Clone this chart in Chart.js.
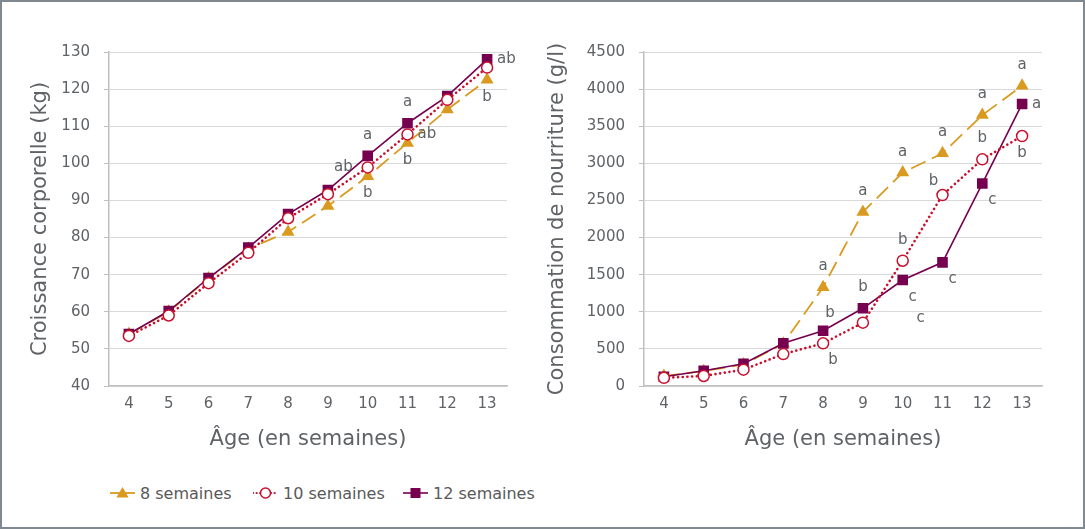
<!DOCTYPE html>
<html>
<head>
<meta charset="utf-8">
<script src="https://cdn.jsdelivr.net/npm/chart.js@4/dist/chart.umd.min.js"></script>
<style>
  html, body { margin: 0; padding: 0; background: #fff; }
  #wrap { position: relative; width: 1085px; height: 529px; overflow: hidden; background: #fff; }
  #frame { position: absolute; left: 0; top: 0; width: 1085px; height: 529px; box-sizing: border-box;
           border: 2px solid #808890; pointer-events: none; }
  #growth { position: absolute; left: 0; top: 0; }
  #feed { position: absolute; left: 540px; top: 0; }
  .legend-item { position: absolute; top: 482px; height: 22px; display: flex; align-items: center;
                 font: 16px "DejaVu Sans", sans-serif; color: #595959; white-space: nowrap; }
  .legend-item svg { margin-right: 5px; }
</style>
</head>
<body>
<div id="wrap">
  <canvas id="growth" width="540" height="460"></canvas>
  <canvas id="feed" width="545" height="460"></canvas>
  <div class="legend-item" style="left:110px">
    <svg width="25" height="14"><line x1="0" y1="7" x2="25" y2="7" stroke="#D99A1F" stroke-width="1.8"/>
      <polygon points="12.5,1 18.6,11.5 6.4,11.5" fill="#D99A1F"/></svg>8 semaines</div>
  <div class="legend-item" style="left:253px">
    <svg width="25" height="14"><line x1="0" y1="7" x2="25" y2="7" stroke="#C8102E" stroke-width="2.2"
      stroke-dasharray="0.1 3.5" stroke-linecap="round"/>
      <circle cx="12.5" cy="7" r="5" fill="#fff" stroke="#C8102E" stroke-width="1.5"/></svg>10 semaines</div>
  <div class="legend-item" style="left:403px">
    <svg width="25" height="14"><line x1="0" y1="7" x2="25" y2="7" stroke="#76004F" stroke-width="1.6"/>
      <rect x="7.5" y="2" width="10" height="10" fill="#76004F"/></svg>12 semaines</div>
  <div id="frame"></div>
</div>
<script>
// ---------------- data ----------------
const weeks = ['4', '5', '6', '7', '8', '9', '10', '11', '12', '13'];

// body growth (kg)
const growth8 = [54, 60, 69, 77, 81.5, 88.5, 96.5, 105.5, 114.5, 122.5];
const growth10 = [53.5, 59, 67.7, 75.9, 85.2, 91.7, 98.9, 107.8, 117.1, 125.8];
const growth12 = [54, 60.2, 69.1, 77.3, 86.3, 92.8, 102, 110.8, 118.1, 128];

// feed consumption (g/l)
const feed8 = [135, 200, 290, 570, 1330, 2345, 2875, 3135, 3650, 4045];
const feed10 = [110, 135, 220, 430, 575, 853, 1688, 2573, 3054, 3368];
const feed12 = [125, 205, 300, 575, 745, 1047, 1428, 1666, 2728, 3800];

const growthTicks = [40, 50, 60, 70, 80, 90, 100, 110, 120, 130];
const feedTicks = [0, 500, 1000, 1500, 2000, 2500, 3000, 3500, 4000, 4500];

// significance letters: [series, week index, letter, placement]
const growthLetters = [
    ['s12', 6, 'a', 'above'], ['s10', 6, 'ab', 'left'], ['s8', 6, 'b', 'below'],
    ['s12', 7, 'a', 'above'], ['s10', 7, 'ab', 'right'], ['s8', 7, 'b', 'below'],
    ['s12', 9, 'ab', 'right'], ['s8', 9, 'b', 'below']
];
const feedLetters = [
    ['s8', 4, 'a', 'above'], ['s12', 4, 'b', 'aboveRight'], ['s10', 4, 'b', 'belowRight'],
    ['s8', 5, 'a', 'above'], ['s12', 5, 'b', 'above'],
    ['s8', 6, 'a', 'above'], ['s10', 6, 'b', 'above'], ['s12', 6, 'c', 'belowRight'], ['s12', 6, 'c', 'farBelowRight'],
    ['s8', 7, 'a', 'above'], ['s10', 7, 'b', 'aboveLeft'], ['s12', 7, 'c', 'belowRight'],
    ['s8', 8, 'a', 'above'], ['s10', 8, 'b', 'above'], ['s12', 8, 'c', 'belowRight'],
    ['s8', 9, 'a', 'above'], ['s12', 9, 'a', 'right'], ['s10', 9, 'b', 'below']
];

// ---------------- styles ----------------
const colors = {
    gold: '#D99A1F',
    red: '#C8102E',
    purple: '#76004F',
    text: '#5F6266',
    grid: '#D9D9D9',
    axis: '#BFBFBF'
};
const FONT = '"DejaVu Sans", sans-serif';

// label offsets relative to the data point: [dx, dy, align]
const placements = {
    above: [0, -21, 'center'],
    below: [0, 17, 'center'],
    left: [-15, 0, 'right'],
    right: [10, 0, 'left'],
    aboveRight: [7, -18, 'center'],
    aboveLeft: [-9, -14, 'center'],
    belowRight: [10, 17, 'center'],
    farBelowRight: [18, 38, 'center']
};

function makeDatasets(d8, d10, d12) {
    return [
        {
            key: 's8', label: '8 semaines', data: d8, order: 2,
            borderColor: colors.gold, backgroundColor: colors.gold,
            borderWidth: 1.8, borderDash: [16, 7],
            pointStyle: 'triangle', pointRadius: 7.5, pointBorderWidth: 0
        },
        {
            key: 's10', label: '10 semaines', data: d10, order: 0,
            borderColor: colors.red, backgroundColor: '#ffffff',
            borderWidth: 2.6, borderDash: [0.1, 4.6], borderCapStyle: 'round',
            pointStyle: 'circle', pointRadius: 5.5, pointBorderWidth: 1.5
        },
        {
            key: 's12', label: '12 semaines', data: d12, order: 1,
            borderColor: colors.purple, backgroundColor: colors.purple,
            borderWidth: 1.6,
            pointStyle: 'rect', pointRadius: 7.5, pointBorderWidth: 0
        }
    ];
}

function letterPlugin(items) {
    return {
        id: 'letters',
        afterDatasetsDraw(chart) {
            const { ctx, scales: { x, y } } = chart;
            ctx.save();
            ctx.font = '15px ' + FONT;
            ctx.fillStyle = colors.text;
            ctx.textBaseline = 'middle';
            items.forEach(([key, idx, txt, where]) => {
                const ds = chart.data.datasets.find(d => d.key === key);
                const [dx, dy, align] = placements[where];
                ctx.textAlign = align;
                ctx.fillText(txt, x.getPixelForValue(idx) + dx, y.getPixelForValue(ds.data[idx]) + dy);
            });
            ctx.restore();
        }
    };
}

function makeChart(id, datasets, ticks, yTitle, opts) {
    return new Chart(document.getElementById(id), {
        type: 'line',
        data: { labels: weeks, datasets: datasets },
        options: {
            responsive: false,
            animation: false,
            layout: { padding: { left: 0, right: opts.padRight, top: 52, bottom: 0 } },
            plugins: { legend: { display: false }, tooltip: { enabled: false } },
            scales: {
                x: {
                    offset: true,
                    grid: { display: false, drawTicks: false },
                    border: { display: true, color: colors.axis, width: 1.5 },
                    ticks: { color: colors.text, font: { family: FONT, size: 15 }, padding: 9 },
                    title: {
                        display: true, text: 'Âge (en semaines)', color: colors.text,
                        font: { family: FONT, size: 21 }, padding: { top: 0, bottom: 8 }
                    },
                    afterFit: (s) => { s.height = 74; }
                },
                y: {
                    min: ticks[0],
                    max: ticks[ticks.length - 1],
                    afterBuildTicks: (s) => { s.ticks = ticks.map(v => ({ value: v })); },
                    grid: { color: colors.grid, tickColor: colors.axis, tickLength: 5, lineWidth: 1 },
                    border: { display: true, color: colors.axis, width: 1.5 },
                    ticks: {
                        color: colors.text, font: { family: FONT, size: 15 }, padding: 14,
                        callback: (v) => String(v)
                    },
                    title: {
                        display: true, text: yTitle, color: colors.text,
                        font: { family: FONT, size: 21 }, padding: { top: opts.titlePad, bottom: 0 }
                    },
                    afterFit: (s) => { s.width = opts.axisWidth; }
                }
            }
        },
        plugins: [letterPlugin(opts.letters)]
    });
}

makeChart('growth', makeDatasets(growth8, growth10, growth12), growthTicks,
    'Croissance corporelle (kg)', { padRight: 33, axisWidth: 109, titlePad: 28, letters: growthLetters });

makeChart('feed', makeDatasets(feed8, feed10, feed12), feedTicks,
    'Consommation de nourriture (g/l)', { padRight: 43, axisWidth: 104, titlePad: 5, letters: feedLetters });
</script>
</body>
</html>
